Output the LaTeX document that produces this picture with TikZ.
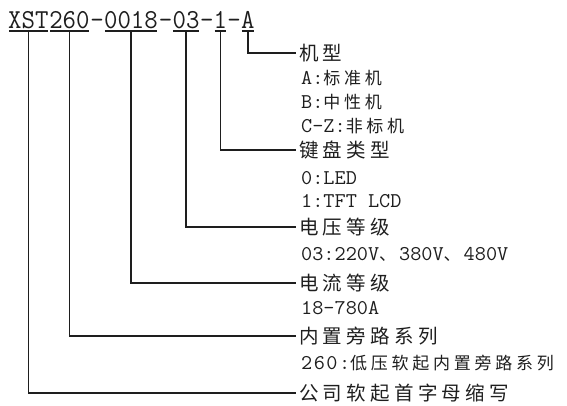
\documentclass[tikz,border=0pt]{standalone}
\usepackage{fontspec}
\setmainfont{Liberation Serif}
\newfontfamily\latfont[FakeStretch=0.952]{Latin Modern Mono}
\newfontfamily\sublat[FakeStretch=1.03]{Latin Modern Mono}
\newfontfamily\cjkfont[LetterSpace=22]{Noto Sans CJK SC}
\newcommand\myzh[1]{{\cjkfont\fontsize{17}{20}\selectfont #1}}
\definecolor{ink}{HTML}{1E1E1E}
\tikzset{
  codetxt/.style={inner sep=0pt, anchor=base west, font=\latfont\fontsize{27.4}{30}\selectfont, text=ink},
  head/.style={inner xsep=3pt, inner ysep=0pt, anchor=west, font=\cjkfont\fontsize{19.5}{22}\selectfont, text=ink},
  sub/.style={inner sep=0pt, anchor=base west, font=\sublat\fontsize{21}{24}\selectfont, text=ink},
  link/.style={line width=1.6pt, draw=ink},
  uline/.style={line width=1.6pt, draw=ink},
}
\begin{document}
\begin{tikzpicture}[x=1pt,y=-1pt]
\useasboundingbox (0,0) rectangle (567,405);
% code groups
\node[codetxt] (gX) at (8,28) {XST};
\node[codetxt] (g260) at (49.1,28) {260};
\node[codetxt] (d1) at (90.2,28) {-};
\node[codetxt] (g0018) at (103.9,28) {0018};
\node[codetxt] (d2) at (158.7,28) {-};
\node[codetxt] (g03) at (172.4,28) {03};
\node[codetxt] (d3) at (199.8,28) {-};
\node[codetxt] (g1) at (213.5,28) {1};
\node[codetxt] (d4) at (227.2,28) {-};
\node[codetxt] (gA) at (240.9,28) {A};
% underlines
\foreach \g in {gX,g260,g0018,g03,g1,gA}{
  \draw[uline] ([xshift=1pt,yshift=-3pt]\g.base west) -- ([xshift=-1pt,yshift=-3pt]\g.base east);
}
% headings
\node[head] (hA) at (296,53) {机型};
\node[head] (h1) at (296,150) {键盘类型};
\node[head] (h03) at (296,227) {电压等级};
\node[head] (h0018) at (296,283) {电流等级};
\node[head] (h260) at (296,336) {内置旁路系列};
\node[head] (hX) at (296,393) {公司软起首字母缩写};
% sub lines
\node[sub] (sA1) at (301,84) {A:\myzh{标准机}};
\node[sub] (sA2) at (301,108) {B:\myzh{中性机}};
\node[sub] (sA3) at (301,132) {C-Z:\myzh{非标机}};
\node[sub] (s11) at (301,184) {0:LED};
\node[sub] (s12) at (301,207) {1:TFT LCD};
\node[sub] (s03) at (301,260) {03:220V\myzh{、}\kern3pt 380V\myzh{、}\kern3pt 480V};
\node[sub] (s0018) at (301,314) {18-780A};
\node[sub] (s260) at (301,369) {2\kern1.5pt 6\kern1.5pt 0\kern1.5pt:\myzh{低压软起内置旁路系列}};
% connectors
\draw[link] ([yshift=-3pt]gA.base) |- (hA.west);
\draw[link] ([yshift=-3pt]g1.base) |- (h1.west);
\draw[link] ([yshift=-3pt]g03.base) |- (h03.west);
\draw[link] ([yshift=-3pt]g0018.base) |- (h0018.west);
\draw[link] ([yshift=-3pt]g260.base) |- (h260.west);
\draw[link] ([yshift=-3pt]gX.base) |- (hX.west);
\end{tikzpicture}
\end{document}
